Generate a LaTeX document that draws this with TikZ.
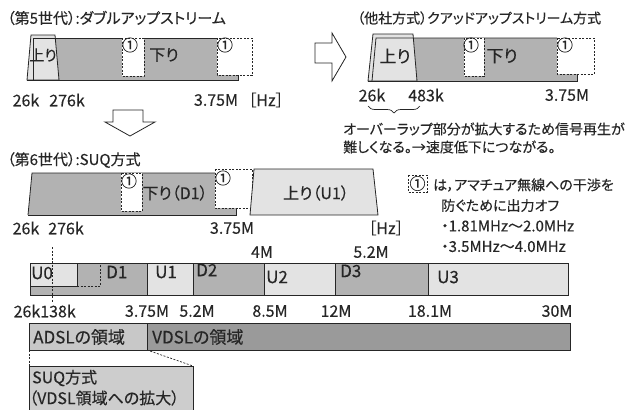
\documentclass[tikz,border=0pt]{standalone}
\usepackage{fontspec}
\setmainfont{Noto Sans CJK JP}[RawFeature=+palt, FakeBold=0.3]
\usetikzlibrary{decorations.pathreplacing}
\definecolor{dgray}{HTML}{B2B2B2}
\definecolor{lgray}{HTML}{E3E3E3}
\definecolor{agray}{HTML}{C8C8C8}
\definecolor{vgray}{HTML}{9A9A9A}
\definecolor{sgray}{HTML}{CDCDCD}
\definecolor{ln}{HTML}{262626}
\tikzset{
  lbl/.style={font=\fontsize{15}{15}\selectfont, inner sep=0pt, text=ln},
  small/.style={font=\fontsize{14}{14}\selectfont, inner sep=0pt, text=ln, anchor=west},
  tick/.style={font=\fontsize{16}{16}\selectfont, inner sep=0pt, text=ln},
  big/.style={font=\fontsize{17}{17}\selectfont, inner sep=0pt, text=ln, anchor=west},
  circ/.style={font=\fontsize{16}{16}\selectfont, inner sep=0pt, text=ln},
  edge/.style={draw=ln, line width=0.8pt},
  offbox/.style={draw=ln, line width=0.8pt, fill=white, dash pattern=on 2pt off 1.5pt},
  dline/.style={draw=ln, line width=0.7pt, dash pattern=on 2pt off 1.5pt},
  blockarrow/.style={draw=ln, line width=0.8pt, fill=white},
}
\begin{document}
\begin{tikzpicture}[x=1pt,y=-1pt]
\useasboundingbox (0,0) rectangle (641,410);

% ---------- Row 1: 5th generation ----------
\node[lbl, anchor=west] (t1) at (7,18) {（第5世代）:ダブルアップストリーム};
\fill[dgray] (33,38) rectangle (238,80);
\filldraw[fill=lgray, edge] (27,80) -- (31,35) -- (55,35) -- (59,80) -- cycle;
\draw[edge] (33,80) -- (33,38) -- (217,38);
\draw[edge] (27,80) -- (238,80) -- (238,75);
\draw[offbox] (122,38) rectangle (144,76);
\draw[offbox] (217,38) rectangle (252,75);
\node[circ] (c1a) at (130,45) {①};
\node[circ] (c1b) at (225,45) {①};
\node[lbl] (up1) at (43,55) {上り};
\node[lbl, font=\fontsize{16}{16}\selectfont] (dn1) at (164,55) {下り};
\node[tick] (a26) at (26,100) {26k};
\node[tick] (a276) at (67,100) {276k};
\node[tick] (a375) at (216,100) {3.75M};
\node[tick] (ahz) at (266,100) {［Hz］};

% down block arrow
\filldraw[blockarrow] (113,110) -- (143,110) -- (143,122) -- (155,122) -- (130,136) -- (105,122) -- (113,122) -- cycle;
% right block arrow
\filldraw[blockarrow] (315,43) -- (332,43) -- (332,33) -- (346,57) -- (332,81) -- (332,63) -- (315,63) -- cycle;

% ---------- Row 2: other company ----------
\node[small] (t2) at (357,18) {（他社方式）クアッドアップストリーム方式};
\fill[dgray] (372,81) -- (376,38) -- (577,38) -- (577,81) -- cycle;
\filldraw[fill=lgray, edge] (368,81) -- (373,34) -- (413,34) -- (417,81) -- cycle;
\draw[edge] (372,81) -- (376,38) -- (557,38);
\draw[edge] (368,81) -- (577,81) -- (577,74);
\draw[offbox] (464,38) rectangle (484,76);
\draw[offbox] (557,38) rectangle (594,74);
\node[circ] (c2a) at (471,45) {①};
\node[circ] (c2b) at (565,45) {①};
\node[lbl, font=\fontsize{17}{17}\selectfont] (up2) at (395,56) {上り};
\node[lbl, font=\fontsize{17}{17}\selectfont] (dn2) at (502,56) {下り};
\node[tick] (b26) at (372,95) {26k};
\node[tick] (b483) at (426,95) {483k};
\node[tick] (b375) at (567,95) {3.75M};
\coordinate (brl) at (368,106);
\coordinate (brr) at (420,106);
\draw[ln, line width=0.7pt, decorate, decoration={brace, amplitude=7pt, mirror}] (brl) -- (brr);
\node[small] (n1) at (343,129) {オーバーラップ部分が拡大するため信号再生が};
\node[small] (n2) at (343,147) {難しくなる。→速度低下につながる。};

% ---------- Row 3: 6th generation ----------
\node[lbl, anchor=west] (t3) at (7,160) {（第6世代）:SUQ方式};
\fill[dgray] (28,215) -- (32,173) -- (236,173) -- (236,215) -- cycle;
\draw[edge] (28,215) -- (32,173) -- (215,173);
\draw[edge] (28,215) -- (236,215) -- (236,208);
\draw[offbox] (121,173) rectangle (142,211);
\draw[offbox] (215,169) rectangle (252,208);
\node[circ] (c3a) at (129,181) {①};
\node[circ] (c3b) at (223,178) {①};
\filldraw[fill=lgray, edge] (250,215) -- (254,169) -- (373,169) -- (378,215) -- cycle;
\node[lbl, font=\fontsize{16}{16}\selectfont] (dn3) at (175,193) {下り（D1）};
\node[lbl, font=\fontsize{16}{16}\selectfont] (up3) at (316,193) {上り（U1）};
\node[tick] (c26) at (26,228) {26k};
\node[tick] (c276) at (66,228) {276k};
\node[tick] (c375) at (232,228) {3.75M};
\node[tick] (chz) at (386,228) {［Hz］};
\node[tick] (c4) at (262,252) {4M};
\node[tick] (c52) at (371,252) {5.2M};

% note
\draw[offbox] (408,175) rectangle (427,192);
\node[circ] (cn) at (417.5,183.5) {①};
\node[small] (m1) at (433,185) {は，アマチュア無線への干渉を};
\node[small] (m2) at (441,205.5) {防ぐために出力オフ};
\node[lbl, anchor=west] (m3) at (441,226) {・1.81MHz〜2.0MHz};
\node[lbl, anchor=west] (m4) at (441,246.5) {・3.5MHz〜4.0MHz};

% ---------- Band ----------
\filldraw[fill=dgray, edge] (30,263) rectangle (147,295);
\filldraw[fill=lgray, edge] (147,263) rectangle (193,295);
\filldraw[fill=dgray, edge] (193,263) rectangle (264,295);
\filldraw[fill=lgray, edge] (264,263) rectangle (335,295);
\filldraw[fill=dgray, edge] (335,263) rectangle (428,295);
\filldraw[fill=lgray, edge] (428,263) rectangle (568,295);
\filldraw[fill=lgray, edge] (30,263) rectangle (77,286);
\draw[dline] (77,286) -- (100,286) -- (100,263);
\draw[dline] (52,247) -- (52,303);
\node[big] (u0) at (31,273) {U0};
\node[big] (d1) at (106,272) {D1};
\node[big] (u1) at (155,272) {U1};
\node[big] (d2) at (196,270) {D2};
\node[big] (u2) at (266,277) {U2};
\node[big] (d3) at (340,271) {D3};
\node[big] (u3) at (437,277) {U3};
\node[tick] (e26) at (27,311) {26k};
\node[tick] (e138) at (58,311) {138k};
\node[tick] (e375) at (147,311) {3.75M};
\node[tick] (e52) at (197,311) {5.2M};
\node[tick] (e85) at (270,311) {8.5M};
\node[tick] (e12) at (336,311) {12M};
\node[tick] (e181) at (430,311) {18.1M};
\node[tick] (e30) at (557,311) {30M};

% ADSL / VDSL bar
\filldraw[fill=agray, edge] (29,323) rectangle (147,350);
\filldraw[fill=vgray, edge] (147,323) rectangle (570,350);
\node[big] (adsl) at (33,337) {ADSLの領域};
\node[big] (vdsl) at (152,337) {VDSLの領域};
\draw[dline] (29,350) -- (29,366);
\draw[dline] (147,350) -- (193,366);
\filldraw[fill=sgray, edge] (29,366) rectangle (193,414);
\node[big, font=\fontsize{16}{16}\selectfont] (suq1) at (32,378) {SUQ方式};
\node[big, font=\fontsize{16}{16}\selectfont] (suq2) at (29,398) {（VDSL領域への拡大）};
\end{tikzpicture}
\end{document}
